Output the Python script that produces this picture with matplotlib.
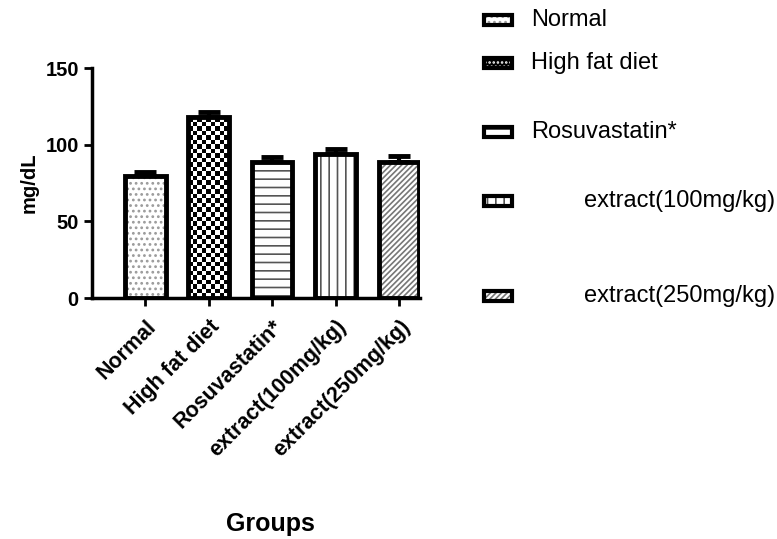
import matplotlib
matplotlib.use('Agg')
import numpy as np
import matplotlib.pyplot as plt
from matplotlib.patches import Rectangle

plt.rcParams['font.family'] = ['Liberation Sans', 'DejaVu Sans']
plt.rcParams['hatch.linewidth'] = 1.2

groups = ['Normal', 'High fat diet', 'Rosuvastatin*', 'extract(100mg/kg)', 'extract(250mg/kg)']
legend_labels = ['Normal', 'High fat diet', 'Rosuvastatin*', '        extract(100mg/kg)', '        extract(250mg/kg)']
means = [79.5, 118.0, 89.0, 94.0, 89.0]
sem = [2.5, 3.0, 3.0, 3.5, 3.5]

# fill style per group: (face, hatch colour, hatch); None -> checkerboard
styles = [
    ('white', '#9a9a9a', '...'),
    (None, None, None),
    ('white', '#555555', '--'),
    ('white', '#555555', '||'),
    ('white', '#777777', '//////'),
]


def checker_board(ax, x0, x1, y0, y1, cell_px=4.5):
    # black/white checkerboard array with cells of roughly cell_px pixels
    p0 = ax.transData.transform((x0, y0))
    p1 = ax.transData.transform((x1, y1))
    nx = max(2, int(round(abs(p1[0] - p0[0]) / cell_px)))
    ny = max(2, int(round(abs(p1[1] - p0[1]) / cell_px)))
    return (np.indices((ny, nx)).sum(axis=0) % 2).astype(float)


fig = plt.figure(figsize=(7.77, 5.39), dpi=100)
ax = fig.add_axes([92 / 777, 1 - 298 / 539, (420 - 92) / 777, (298 - 68) / 539])
ax.set_xlim(-0.84, 4.33)
ax.set_ylim(0, 150)

x = list(range(len(groups)))
width = 0.64
for i, (face, hc, hatch) in enumerate(styles):
    if face is None:
        bg = ax.bar(i, means[i], width, color='white', linewidth=0, zorder=2)[0]
        board = checker_board(ax, i - width / 2, i + width / 2, 0, means[i])
        im = ax.imshow(board, cmap='gray', interpolation='nearest', aspect='auto',
                       extent=(i - width / 2, i + width / 2, 0, means[i]), zorder=2)
        im.set_clip_path(bg)
    else:
        ax.bar(i, means[i], width, color=face, edgecolor=hc, hatch=hatch, linewidth=0, zorder=2)
    ax.bar(i, means[i], width, fill=False, edgecolor='black', linewidth=3.5, zorder=3)

ax.errorbar(x, means, yerr=[[0] * len(sem), sem], fmt='none', ecolor='black',
            elinewidth=3, capsize=8, capthick=3.5, zorder=1)

ax.set_xlim(-0.84, 4.33)
ax.set_ylim(0, 150)
ax.set_yticks([0, 50, 100, 150])
ax.set_xticks(x)
ax.set_xticklabels(groups, rotation=45, ha='right', rotation_mode='anchor', fontweight='bold', fontsize=15.5)
for lab in ax.get_yticklabels():
    lab.set_fontweight('bold')
    lab.set_fontsize(14.5)
ax.tick_params(axis='both', width=2, length=6, direction='out')
ax.tick_params(axis='x', pad=7)
ax.spines['top'].set_visible(False)
ax.spines['right'].set_visible(False)
ax.spines['left'].set_linewidth(2.5)
ax.spines['bottom'].set_linewidth(2.5)
ax.set_ylabel('mg/dL', fontweight='bold', fontsize=14.5, labelpad=5)
fig.text(270 / 777, 1 - 524 / 539, 'Groups', ha='center', va='center', fontweight='bold', fontsize=18)

# hand-placed legend on the right
legend_y = [20, 63, 132, 201, 296]
for (face, hc, hatch), lab, yy in zip(styles, legend_labels, legend_y):
    y0 = 1 - (yy + 5) / 539
    rect = (484 / 777, y0)
    w, h = 28 / 777, 10 / 539
    if face is None:
        fig.add_artist(Rectangle(rect, w, h, transform=fig.transFigure,
                                 facecolor='black', edgecolor='white', hatch='....', linewidth=0))
    else:
        fig.add_artist(Rectangle(rect, w, h, transform=fig.transFigure,
                                 facecolor=face, edgecolor=hc, hatch=hatch, linewidth=0))
    fig.add_artist(Rectangle(rect, w, h, transform=fig.transFigure,
                             fill=False, edgecolor='black', linewidth=3))
    fig.text(531 / 777, 1 - yy / 539, lab, ha='left', va='center', fontsize=17)

fig.savefig('out.png', dpi=100)
